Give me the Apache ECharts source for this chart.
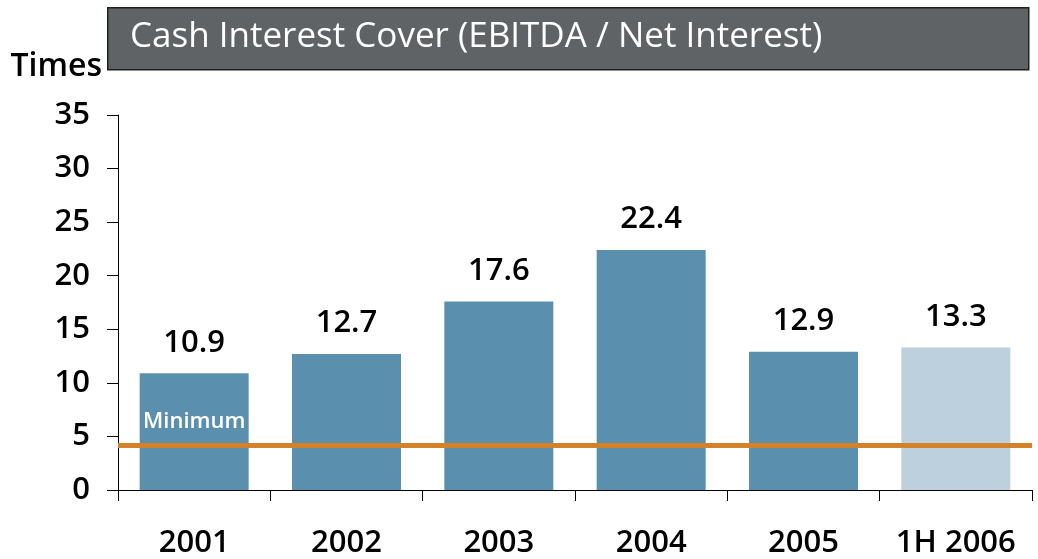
<!DOCTYPE html>
<html lang="en">
	<head>
		<meta charset="UTF-8">
		<title>Cash Interest Cover</title>
		<script src="https://cdn.jsdelivr.net/npm/echarts@6/dist/echarts.min.js"></script>
		<style type="text/css">
			html, body {
				margin: 0;
				padding: 0;
				background-color: #ffffff;
			}
			#main {
				width: 1038px;
				height: 559px;
			}
		</style>
	</head>
	<body>
		<div id="main"></div>
	</body>
	<script type="text/javascript">
		// data
		var categories = ['2001', '2002', '2003', '2004', '2005', '1H 2006'];
		var cover = [10.9, 12.7, 17.6, 22.4, 12.9, 13.3];
		var minimum = 4.2;
		var yTicks = [0, 5, 10, 15, 20, 25, 30, 35];

		var darkBlue = '#5b8fae';
		var lightBlue = '#bdd0dd';
		var font = 'Open Sans';
		var weight = 600;

		var chart = echarts.init(document.getElementById('main'));

		var barData = cover.map(function (v, i) {
			return {
				value: v,
				itemStyle: { color: i == cover.length - 1 ? lightBlue : darkBlue }
			};
		});

		var option = {
			backgroundColor: '#ffffff',
			animation: false,
			graphic: [
				{
					type: 'rect',
					left: 107,
					top: 7,
					shape: { width: 921, height: 62 },
					style: { fill: '#5f6366', stroke: '#202020', lineWidth: 1.5 },
					z: 10
				},
				{
					type: 'text',
					left: 130,
					top: 20,
					style: {
						text: 'Cash Interest Cover (EBITDA / Net Interest)',
						fill: '#ffffff',
						font: '35px "Open Sans"'
					},
					z: 11
				}
			],
			grid: {
				left: 118,
				right: 6,
				top: 115,
				bottom: 68
			},
			xAxis: {
				type: 'category',
				data: categories,
				axisLine: { lineStyle: { color: '#000000', width: 1 } },
				axisTick: { show: true, length: 11, lineStyle: { color: '#000000' } },
				axisLabel: {
					interval: 0,
					color: '#000000',
					fontFamily: font,
					fontWeight: weight,
					fontSize: 31,
					margin: 38
				}
			},
			yAxis: {
				type: 'value',
				min: yTicks[0],
				max: yTicks[yTicks.length - 1],
				interval: 5,
				name: 'Times',
				nameLocation: 'end',
				nameGap: 32,
				nameTextStyle: {
					color: '#000000',
					fontFamily: font,
					fontWeight: weight,
					fontSize: 32,
					align: 'right',
					padding: [0, 16, 0, 0]
				},
				splitLine: { show: false },
				axisLine: { show: true, lineStyle: { color: '#000000', width: 1 } },
				axisTick: { show: true, length: 11, lineStyle: { color: '#000000' } },
				axisLabel: {
					color: '#000000',
					fontFamily: font,
					fontWeight: weight,
					fontSize: 31,
					margin: 28
				}
			},
			series: [
				{
					type: 'bar',
					data: barData,
					barWidth: 109,
					label: {
						show: true,
						position: 'top',
						distance: 15,
						color: '#000000',
						fontFamily: font,
						fontWeight: weight,
						fontSize: 31,
						formatter: function (p) { return p.value.toFixed(1); }
					},
					markLine: {
						silent: true,
						symbol: ['none', 'none'],
						lineStyle: { color: '#d3822a', width: 5, type: 'solid' },
						label: {
							show: true,
							position: 'insideStartTop',
							formatter: 'Minimum',
							color: '#ffffff',
							fontFamily: font,
							fontWeight: weight,
							fontSize: 22,
							distance: [25, 12]
						},
						data: [{ yAxis: minimum }]
					}
				}
			]
		};
		chart.setOption(option);
	</script>
</html>
